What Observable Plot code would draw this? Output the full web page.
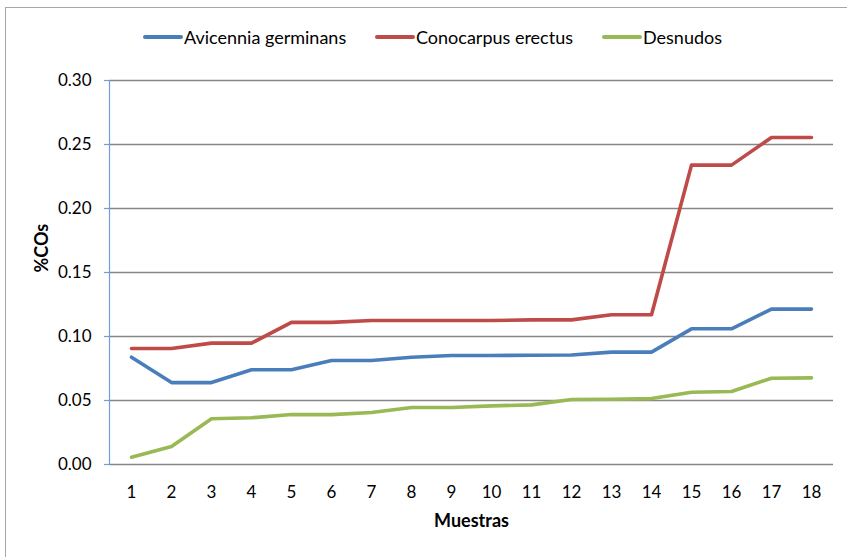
<!DOCTYPE html>
<html>
<head>
<meta charset="utf-8">
<script src="https://cdn.jsdelivr.net/npm/d3@7"></script>
<script src="https://cdn.jsdelivr.net/npm/@observablehq/plot@0.6"></script>
<style>
  html, body { margin: 0; padding: 0; background: #fff; }
  #wrap { position: relative; width: 847px; height: 557px; overflow: hidden; font-family: Lato, "Open Sans", sans-serif; }
  #frame { position: absolute; left: 5px; top: 7px; width: 900px; height: 600px; border-left: 1.5px solid #a6a6a6; border-top: 1.5px solid #a6a6a6; }
  #chart { position: absolute; left: 0; top: 0; }
  .leg { position: absolute; top: 26px; display: flex; align-items: center; font-size: 18px; color: #000; white-space: nowrap; }
  .leg .sw { width: 40px; height: 4px; border-radius: 2px; margin-right: 1px; }
</style>
</head>
<body>
<div id="wrap">
  <div id="frame"></div>
  <div id="chart"></div>
</div>
<script>
const samples = [1,2,3,4,5,6,7,8,9,10,11,12,13,14,15,16,17,18];
const seriesNames = ["Avicennia germinans", "Conocarpus erectus", "Desnudos"];
const avicennia = [0.0838,0.0640,0.0640,0.0740,0.0740,0.0813,0.0813,0.0838,0.0852,0.0852,0.0854,0.0856,0.0878,0.0878,0.1060,0.1060,0.1214,0.1214];
const conocarpus = [0.0906,0.0906,0.0948,0.0948,0.1110,0.1110,0.1125,0.1125,0.1125,0.1125,0.1130,0.1130,0.1170,0.1170,0.2339,0.2339,0.2555,0.2555];
const desnudos = [0.0057,0.0140,0.0357,0.0365,0.0390,0.0390,0.0406,0.0445,0.0445,0.0458,0.0466,0.0508,0.0510,0.0515,0.0565,0.0570,0.0674,0.0677];
const yTicks = [0,0.05,0.10,0.15,0.20,0.25,0.30];
const colors = ["#4a7ebb", "#be4b48", "#98b954"];
const legendLeft = [143, 375, 602];

const allValues = [avicennia, conocarpus, desnudos];
const data = [];
seriesNames.forEach((s, i) => samples.forEach((m, j) => data.push({serie: s, muestra: m, valor: allValues[i][j]})));

const font = "Lato, 'Open Sans', sans-serif";

const chart = Plot.plot({
  width: 847,
  height: 557,
  marginLeft: 109,
  marginRight: 14,
  marginTop: 80,
  marginBottom: 93,
  style: {fontFamily: font, fontSize: "17px", background: "transparent", color: "#000"},
  x: {type: "point", domain: samples, padding: 0.5},
  y: {domain: [0, 0.30]},
  color: {domain: seriesNames, range: colors},
  marks: [
    Plot.gridY(yTicks, {stroke: "#868686", strokeOpacity: 1, strokeWidth: 1.4}),
    Plot.axisY(yTicks, {text: null, tickSize: 5, stroke: "#6f9fd8", strokeWidth: 1.2, label: null}),
    Plot.axisY(yTicks, {tickSize: 0, tickPadding: 18, tickFormat: d3.format(".2f"), fontSize: 17, label: null, fill: "#000"}),
    Plot.axisX(samples, {tickSize: 0, tickPadding: 21, fontSize: 17, label: null, fill: "#000"}),
    Plot.frame({anchor: "left", stroke: "#6f9fd8", strokeWidth: 1.2}),
    Plot.line(data, {x: "muestra", y: "valor", z: "serie", stroke: "serie", strokeWidth: 3.6, strokeLinejoin: "round", strokeLinecap: "round"}),
    Plot.text(["%COs"], {frameAnchor: "left", dx: -67, rotate: -90, fontWeight: "bold", fontSize: 18, fill: "#000"}),
    Plot.text(["Muestras"], {frameAnchor: "bottom", dy: 62, fontWeight: "bold", fontSize: 18, fill: "#000"})
  ]
});
document.getElementById("chart").appendChild(chart);

const wrap = document.getElementById("wrap");
seriesNames.forEach((s, i) => {
  const item = document.createElement("div");
  item.className = "leg";
  item.style.left = legendLeft[i] + "px";
  const sw = document.createElement("span");
  sw.className = "sw";
  sw.style.background = colors[i];
  const tx = document.createElement("span");
  tx.textContent = s;
  item.appendChild(sw);
  item.appendChild(tx);
  wrap.appendChild(item);
});
</script>
</body>
</html>
